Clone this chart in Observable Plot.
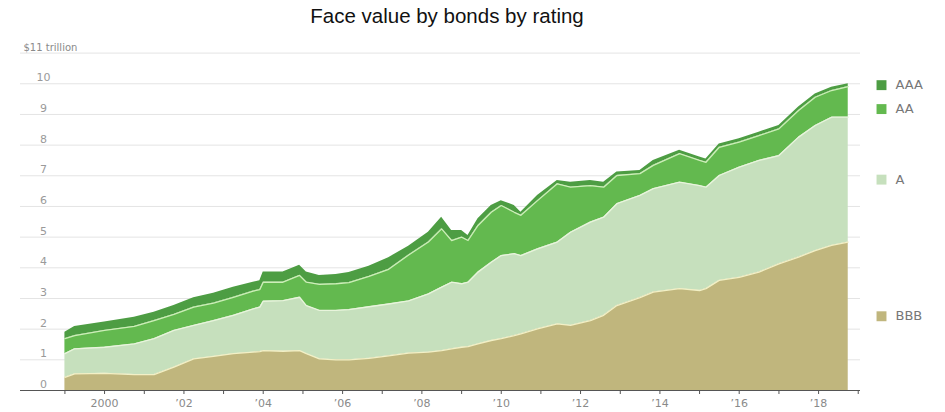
<!DOCTYPE html>
<html><head><meta charset="utf-8">
<script src="https://cdn.jsdelivr.net/npm/d3@7"></script>
<script src="https://cdn.jsdelivr.net/npm/@observablehq/plot@0.6"></script>
<style>
body{margin:0;background:#fff;}
#wrap{position:relative;width:945px;height:412px;}
#title{position:absolute;left:0;top:4px;width:894px;text-align:center;font:20.5px "Liberation Sans",Arial,sans-serif;color:#111;z-index:2;}
</style></head><body>
<div id="wrap"><div id="title">Face value by bonds by rating</div></div>
<script>
// ---- data (trillions of dollars) ----
const dates = ["1999-01","1999-04","2000-01","2000-10","2001-04","2001-10","2002-04","2002-10","2003-04","2003-10",
  "2003-12","2004-01","2004-07","2004-12","2005-02","2005-06","2005-11","2006-03","2006-09","2007-03",
  "2007-09","2008-03","2008-07","2008-10","2009-01","2009-03","2009-06","2009-10","2010-01","2010-05",
  "2010-07","2010-12","2011-06","2011-10","2012-04","2012-08","2012-12","2013-07","2013-11","2014-07",
  "2015-01","2015-03","2015-07","2016-01","2016-07","2017-01","2017-07","2017-12","2018-05","2018-10"];
const BBB = [0.43,0.54,0.56,0.52,0.52,0.76,1.03,1.11,1.20,1.25,
  1.27,1.30,1.28,1.30,1.20,1.03,1.00,1.00,1.05,1.13,
  1.22,1.25,1.30,1.36,1.41,1.43,1.52,1.63,1.69,1.79,
  1.85,2.01,2.17,2.12,2.28,2.45,2.77,3.03,3.21,3.32,
  3.26,3.32,3.59,3.69,3.86,4.13,4.35,4.56,4.73,4.84];
const A = [0.77,0.82,0.85,1.00,1.17,1.20,1.09,1.17,1.25,1.41,
  1.45,1.61,1.65,1.74,1.57,1.58,1.61,1.64,1.68,1.69,
  1.70,1.90,2.07,2.17,2.07,2.10,2.34,2.55,2.71,2.67,
  2.55,2.61,2.67,3.04,3.21,3.20,3.32,3.33,3.37,3.47,
  3.42,3.31,3.42,3.59,3.64,3.53,3.91,4.08,4.18,4.07];
const AA = [0.49,0.43,0.55,0.57,0.59,0.52,0.60,0.57,0.59,0.58,
  0.57,0.62,0.60,0.71,0.76,0.85,0.87,0.88,0.99,1.13,
  1.50,1.69,1.90,1.36,1.52,1.36,1.52,1.63,1.63,1.35,
  1.31,1.57,1.90,1.47,1.19,0.98,0.92,0.71,0.76,0.93,
  0.82,0.81,0.92,0.82,0.81,0.87,0.87,0.92,0.87,1.00];
const AAA = [0.21,0.30,0.27,0.30,0.27,0.29,0.30,0.32,0.33,0.29,
  0.29,0.33,0.33,0.33,0.33,0.29,0.30,0.33,0.33,0.38,
  0.28,0.32,0.38,0.33,0.22,0.16,0.22,0.22,0.16,0.22,
  0.10,0.17,0.11,0.16,0.17,0.16,0.11,0.10,0.16,0.11,
  0.11,0.11,0.11,0.11,0.11,0.11,0.11,0.11,0.11,0.09];
const ratings = ["BBB","A","AA","AAA"];           // stacking order, bottom to top
const ratingColors = ["#c0b67d","#c6e0bd","#63b94f","#4d9d43"];
const yTicks = [0,1,2,3,4,5,6,7,8,9,10];
const yTopLabel = "$11 trillion";
const xTickYears = [1999,2000,2001,2002,2003,2004,2005,2006,2007,2008,2009,2010,2011,2012,2013,2014,2015,2016,2017,2018,2019];
const xTickLabels = ["","2000","","’02","","’04","","’06","","’08","","’10","","’12","","’14","","’16","","’18",""];

// ---- build ----
const parse = d3.utcParse("%Y-%m");
const series = {BBB, A, AA, AAA};
const rows = [];
ratings.forEach(r => dates.forEach((d, i) => rows.push({date: parse(d), rating: r, value: series[r][i]})));
const colorScale = {domain: ratings, range: ratingColors};
const tickDates = xTickYears.map(y => new Date(Date.UTC(y, 0, 1)));
const labelByYear = new Map(xTickYears.map((y, i) => [y, xTickLabels[i]]));

// legend: placed at the middle of each band at the last date, nudged apart
const last = dates.length - 1;
let cum = 0; const mid = {};
ratings.forEach(r => { const v = series[r][last]; mid[r] = cum + v / 2; cum += v; });
const legendRows = [];
let prev = Infinity;
[...ratings].reverse().forEach(r => { const y = Math.min(mid[r], prev - 0.78); legendRows.push({rating: r, y}); prev = y; });

const sepColors = {BBB: "#f2f0c6", A: "#e8f4dc", AA: "#cdeeb8"};

const chart = Plot.plot({
  width: 945, height: 412,
  marginLeft: 20, marginRight: 85, marginTop: 52.6, marginBottom: 22,
  style: {fontFamily: "'DejaVu Sans', Verdana, sans-serif", fontSize: "11px", background: "transparent"},
  x: {type: "utc", domain: [new Date(Date.UTC(1997, 10, 18)), new Date(Date.UTC(2019, 0, 22))]},
  y: {domain: [0, 11]},
  color: colorScale,
  marks: [
    Plot.ruleY(yTicks.slice(1).concat([11]), {stroke: "#e4e4e4", strokeWidth: 1}),
    Plot.areaY(rows, Plot.stackY({x: "date", y: "value", z: "rating", fill: "rating", order: ratings})),
    Plot.lineY(rows.filter(d => d.rating !== "AAA"),
      Plot.stackY2({x: "date", y: "value", z: "rating", order: ratings, stroke: d => sepColors[d.rating], strokeWidth: 1.3})),
    Plot.ruleY([0], {stroke: "#555", strokeWidth: 1.2}),
    Plot.axisX(tickDates, {anchor: "bottom", tickSize: 4, tickPadding: 5, stroke: "#555", fill: "#8a8a8a",
      tickFormat: d => labelByYear.get(d.getUTCFullYear()), label: null}),
    Plot.axisY(yTicks, {anchor: "left", tickSize: 0, tickPadding: 0, dx: 23, dy: -6, textAnchor: "middle",
      fill: "#9a9a9a", label: null}),
    Plot.text([11], {y: d => d, frameAnchor: "left", dx: 3, dy: -5, textAnchor: "start",
      text: () => yTopLabel, fill: "#8a8a8a", fontSize: 10}),
    Plot.dot(legendRows, {y: "y", frameAnchor: "right", dx: 21, symbol: "square", r: 5.6, fill: "rating", stroke: null}),
    Plot.text(legendRows, {y: "y", frameAnchor: "right", dx: 35, text: "rating", textAnchor: "start",
      fill: "#777", fontSize: 13})
  ]
});
document.getElementById("wrap").prepend(chart);
</script>
</body></html>
